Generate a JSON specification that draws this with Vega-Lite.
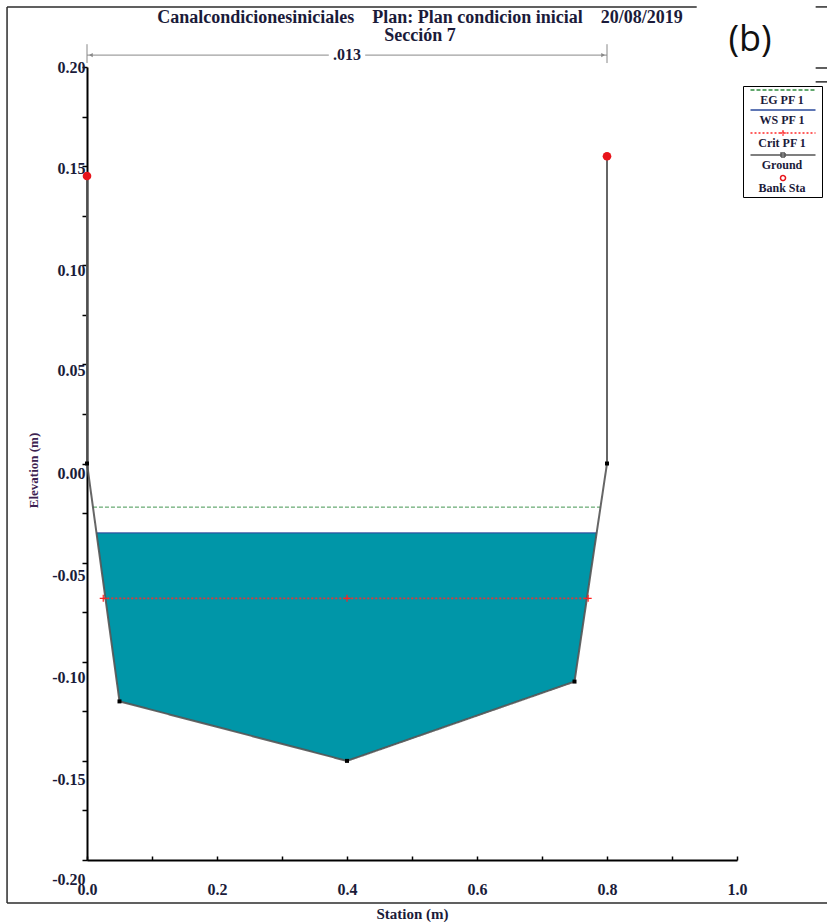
{
  "$schema": "https://vega.github.io/schema/vega-lite/v6.json",
  "width": 650,
  "height": 793,
  "autosize": {"type": "none"},
  "padding": {"left": 87, "top": 67, "right": 90, "bottom": 62},
  "background": "white",
  "config": {"view": {"stroke": null}, "font": "Liberation Serif"},
  "title": {
    "text": ["Canalcondicionesiniciales\u00a0\u00a0\u00a0\u00a0Plan: Plan condicion inicial\u00a0\u00a0\u00a0\u00a020/08/2019", "Sección 7"],
    "anchor": "middle",
    "frame": "group",
    "dx": 8,
    "offset": -39,
    "font": "Liberation Serif",
    "fontWeight": "bold",
    "fontSize": 18,
    "lineHeight": 18,
    "color": "#1b1b3a"
  },
  "datasets": {
    "water": [
      {"x": 0.0146, "ground": -0.035, "ws": -0.035},
      {"x": 0.05, "ground": -0.12, "ws": -0.035},
      {"x": 0.4, "ground": -0.15, "ws": -0.035},
      {"x": 0.75, "ground": -0.11, "ws": -0.035},
      {"x": 0.784, "ground": -0.035, "ws": -0.035}
    ],
    "lines": [
      {"series": "EG PF 1", "o": 1, "x": 0.0092, "y": -0.022},
      {"series": "EG PF 1", "o": 2, "x": 0.79, "y": -0.022},
      {"series": "WS PF 1", "o": 1, "x": 0.0146, "y": -0.035},
      {"series": "WS PF 1", "o": 2, "x": 0.784, "y": -0.035},
      {"series": "Crit PF 1", "o": 1, "x": 0.025, "y": -0.068},
      {"series": "Crit PF 1", "o": 2, "x": 0.771, "y": -0.068},
      {"series": "Ground", "o": 1, "x": 0.0, "y": 0.145},
      {"series": "Ground", "o": 2, "x": 0.0, "y": 0.0},
      {"series": "Ground", "o": 3, "x": 0.05, "y": -0.12},
      {"series": "Ground", "o": 4, "x": 0.4, "y": -0.15},
      {"series": "Ground", "o": 5, "x": 0.75, "y": -0.11},
      {"series": "Ground", "o": 6, "x": 0.8, "y": 0.0},
      {"series": "Ground", "o": 7, "x": 0.8, "y": 0.155}
    ],
    "crit": [
      {"x": 0.025, "y": -0.068},
      {"x": 0.4, "y": -0.068},
      {"x": 0.771, "y": -0.068}
    ],
    "vertices": [
      {"x": 0.0, "y": 0.0},
      {"x": 0.05, "y": -0.12},
      {"x": 0.4, "y": -0.15},
      {"x": 0.75, "y": -0.11},
      {"x": 0.8, "y": 0.0}
    ],
    "bank": [
      {"series": "Bank Sta", "x": 0.0, "y": 0.145},
      {"series": "Bank Sta", "x": 0.8, "y": 0.155}
    ],
    "dimline": [
      {"x": 0.0, "x2": 0.372, "y": 0.206},
      {"x": 0.428, "x2": 0.8, "y": 0.206}
    ],
    "dimticks": [
      {"x": 0.0, "y": 0.2115, "y2": 0.202},
      {"x": 0.8, "y": 0.2115, "y2": 0.202}
    ],
    "arrows": [
      {"x": 0.006, "y": 0.206, "dir": "left"},
      {"x": 0.794, "y": 0.206, "dir": "right"}
    ],
    "dimlabel": [{"x": 0.4, "y": 0.206, "label": ".013"}],
    "panel": [{"x": 1.02, "y": 0.2136, "label": "(b)"}],
    "frame": [
      {"x": -0.123, "x2": 0.938, "y": 0.2303, "y2": 0.2303},
      {"x": 1.121, "x2": 1.14, "y": 0.2303, "y2": 0.2303},
      {"x": 1.121, "x2": 1.14, "y": 0.1995, "y2": 0.1995},
      {"x": 1.121, "x2": 1.14, "y": 0.1925, "y2": 0.1925},
      {"x": -0.123, "x2": -0.123, "y": 0.2303, "y2": -0.2217},
      {"x": -0.123, "x2": 1.14, "y": -0.2217, "y2": -0.2217}
    ]
  },
  "layer": [
    {
      "data": {"name": "water"},
      "mark": {"type": "area", "fill": "#0096a8", "opacity": 1},
      "encoding": {
        "x": {
          "field": "x", "type": "quantitative",
          "scale": {"domain": [0, 1], "nice": false, "zero": false},
          "axis": {
            "title": "Station (m)",
            "values": [0, 0.05, 0.1, 0.15, 0.2, 0.25, 0.3, 0.35, 0.4, 0.45, 0.5, 0.55, 0.6, 0.65, 0.7, 0.75, 0.8, 0.85, 0.9, 0.95, 1],
            "labelExpr": "abs(datum.value*5 - round(datum.value*5)) < 0.000001 ? format(datum.value, '.1f') : ''",
            "labelFont": "Liberation Serif", "labelFontWeight": "bold", "labelFontSize": 16, "labelColor": "#1b1b3a",
            "labelBaseline": "middle", "labelPadding": 33, "labelOverlap": false, "labelFlush": false,
            "tickSize": -4, "tickColor": "#000000", "tickWidth": 1.5,
            "domainColor": "#000000", "domainWidth": 2, "grid": false,
            "titleFont": "Liberation Serif", "titleFontWeight": "bold", "titleFontSize": 15, "titleColor": "#1b1b3a",
            "titleY": 53, "titleBaseline": "middle"
          }
        },
        "y": {
          "field": "ground", "type": "quantitative",
          "scale": {"domain": [-0.2, 0.2], "nice": false, "zero": false},
          "axis": {
            "title": "Elevation (m)",
            "values": [0.2, 0.175, 0.15, 0.125, 0.1, 0.075, 0.05, 0.025, 0, -0.025, -0.05, -0.075, -0.1, -0.125, -0.15, -0.175, -0.2],
            "labelExpr": "abs(datum.value*20 - round(datum.value*20)) < 0.000001 ? replace(format(datum.value, '.2f'), '\u2212', '-') : ''",
            "labelFont": "Liberation Serif", "labelFontWeight": "bold", "labelFontSize": 16, "labelColor": "#1b1b3a",
            "labelBaseline": "middle", "labelPadding": -3, "labelOverlap": false, "labelFlush": false,
            "labelOffset": {
              "condition": [
                {"test": "datum.value < -0.14", "value": 19},
                {"test": "datum.value < -0.09", "value": 16},
                {"test": "datum.value < -0.04", "value": 13},
                {"test": "datum.value < 0.01", "value": 10},
                {"test": "datum.value < 0.06", "value": 6},
                {"test": "datum.value < 0.11", "value": 5},
                {"test": "datum.value < 0.16", "value": 2}
              ],
              "value": 0
            },
            "tickSize": 5, "tickColor": "#000000", "tickWidth": 1.5,
            "domainColor": "#000000", "domainWidth": 2, "grid": false,
            "titleFont": "Liberation Serif", "titleFontWeight": "bold", "titleFontSize": 13, "titleColor": "#3d2251",
            "titleAngle": -90, "titleX": -54, "titleY": 403, "titleAlign": "center", "titleBaseline": "middle"
          }
        },
        "y2": {"field": "ws"}
      }
    },
    {
      "data": {"name": "lines"},
      "mark": {"type": "line"},
      "encoding": {
        "x": {"field": "x", "type": "quantitative"},
        "y": {"field": "y", "type": "quantitative"},
        "order": {"field": "o", "type": "quantitative"},
        "color": {
          "field": "series", "type": "nominal",
          "scale": {"domain": ["EG PF 1", "WS PF 1", "Crit PF 1", "Ground", "Bank Sta"], "range": ["#2e8b3e", "#2a4a9c", "#ff2a2a", "#555555", "#e8141b"]},
          "legend": {
            "title": null, "orient": "none", "legendX": 656, "legendY": 19,
            "strokeColor": "#000000", "fillColor": "#ffffff", "padding": 3,
            "symbolSize": 100, "symbolStrokeWidth": 1.5, "symbolOpacity": 1, "symbolOffset": 31,
            "labelFont": "Liberation Serif", "labelFontWeight": "bold", "labelFontSize": 12, "labelColor": "#1b1b3a",
            "labelAlign": "center", "labelBaseline": "top", "labelOffset": -7, "rowPadding": 1
          }
        },
        "strokeDash": {
          "field": "series", "type": "nominal",
          "scale": {"domain": ["EG PF 1", "WS PF 1", "Crit PF 1", "Ground", "Bank Sta"], "range": [[4, 2], [1, 0], [2, 2], [1, 0], [1, 0]]},
          "legend": {
            "title": null, "orient": "none", "legendX": 656, "legendY": 19,
            "strokeColor": "#000000", "fillColor": "#ffffff", "padding": 3,
            "symbolSize": 100, "symbolStrokeWidth": 1.5, "symbolOpacity": 1, "symbolOffset": 31,
            "labelFont": "Liberation Serif", "labelFontWeight": "bold", "labelFontSize": 12, "labelColor": "#1b1b3a",
            "labelAlign": "center", "labelBaseline": "top", "labelOffset": -7, "rowPadding": 1
          }
        },
        "size": {
          "field": "series", "type": "nominal",
          "scale": {"domain": ["EG PF 1", "WS PF 1", "Crit PF 1", "Ground"], "range": [1, 2, 1, 1.5]},
          "legend": null
        },
        "opacity": {"value": 0.9}
      }
    },
    {
      "data": {"name": "lines"},
      "mark": {"type": "point", "filled": false, "opacity": 0},
      "encoding": {
        "x": {"field": "x", "type": "quantitative"},
        "y": {"field": "y", "type": "quantitative"},
        "shape": {
          "field": "series", "type": "nominal",
          "scale": {
            "domain": ["EG PF 1", "WS PF 1", "Crit PF 1", "Ground", "Bank Sta"],
            "range": [
              "M-6.5,-1H6.5",
              "M-6.5,-1H6.5",
              "M-6.5,-1H6.5M0,-1.55V-0.45M-0.55,-1H0.55",
              "M-6.5,-1H6.5M-0.4,-1.4H0.4V-0.6H-0.4Z",
              "M-0.5,-1A0.5,0.5,0,1,1,0.5,-1A0.5,0.5,0,1,1,-0.5,-1Z"
            ]
          },
          "legend": {
            "title": null, "orient": "none", "legendX": 656, "legendY": 19,
            "strokeColor": "#000000", "fillColor": "#ffffff", "padding": 3,
            "symbolSize": 100, "symbolStrokeWidth": 1.5, "symbolOpacity": 1, "symbolOffset": 31,
            "labelFont": "Liberation Serif", "labelFontWeight": "bold", "labelFontSize": 12, "labelColor": "#1b1b3a",
            "labelAlign": "center", "labelBaseline": "top", "labelOffset": -7, "rowPadding": 1
          }
        }
      }
    },
    {
      "data": {"name": "crit"},
      "mark": {"type": "point", "shape": "M-1,0H1M0,-1V1", "filled": false, "stroke": "#ff2020", "strokeWidth": 1.2, "size": 50, "opacity": 1},
      "encoding": {
        "x": {"field": "x", "type": "quantitative"},
        "y": {"field": "y", "type": "quantitative"}
      }
    },
    {
      "data": {"name": "vertices"},
      "mark": {"type": "point", "shape": "square", "filled": true, "color": "#000000", "size": 16, "opacity": 1},
      "encoding": {
        "x": {"field": "x", "type": "quantitative"},
        "y": {"field": "y", "type": "quantitative"}
      }
    },
    {
      "data": {"name": "bank"},
      "mark": {"type": "point", "shape": "circle", "filled": true, "color": "#e8141b", "size": 75, "opacity": 1},
      "encoding": {
        "x": {"field": "x", "type": "quantitative"},
        "y": {"field": "y", "type": "quantitative"}
      }
    },
    {
      "data": {"name": "dimline"},
      "mark": {"type": "rule", "color": "#888888", "strokeWidth": 1},
      "encoding": {
        "x": {"field": "x", "type": "quantitative"},
        "x2": {"field": "x2"},
        "y": {"field": "y", "type": "quantitative"}
      }
    },
    {
      "data": {"name": "dimticks"},
      "mark": {"type": "rule", "color": "#888888", "strokeWidth": 1},
      "encoding": {
        "x": {"field": "x", "type": "quantitative"},
        "y": {"field": "y", "type": "quantitative"},
        "y2": {"field": "y2"}
      }
    },
    {
      "data": {"name": "arrows"},
      "transform": [{"filter": "datum.dir === 'left'"}],
      "mark": {"type": "point", "shape": "triangle-left", "filled": true, "color": "#888888", "size": 18, "opacity": 1},
      "encoding": {
        "x": {"field": "x", "type": "quantitative"},
        "y": {"field": "y", "type": "quantitative"}
      }
    },
    {
      "data": {"name": "arrows"},
      "transform": [{"filter": "datum.dir === 'right'"}],
      "mark": {"type": "point", "shape": "triangle-right", "filled": true, "color": "#888888", "size": 18, "opacity": 1},
      "encoding": {
        "x": {"field": "x", "type": "quantitative"},
        "y": {"field": "y", "type": "quantitative"}
      }
    },
    {
      "data": {"name": "dimlabel"},
      "mark": {"type": "text", "font": "Liberation Serif", "fontWeight": "bold", "fontSize": 16, "color": "#1b1b3a", "align": "center", "baseline": "middle"},
      "encoding": {
        "x": {"field": "x", "type": "quantitative"},
        "y": {"field": "y", "type": "quantitative"},
        "text": {"field": "label"}
      }
    },
    {
      "data": {"name": "panel"},
      "mark": {"type": "text", "font": "Open Sans", "fontSize": 36, "color": "#111111", "align": "center", "baseline": "middle"},
      "encoding": {
        "x": {"field": "x", "type": "quantitative"},
        "y": {"field": "y", "type": "quantitative"},
        "text": {"field": "label"}
      }
    },
    {
      "data": {"name": "frame"},
      "mark": {"type": "rule", "color": "#2b2b2b", "strokeWidth": 1.5},
      "encoding": {
        "x": {"field": "x", "type": "quantitative"},
        "x2": {"field": "x2"},
        "y": {"field": "y", "type": "quantitative"},
        "y2": {"field": "y2"}
      }
    }
  ]
}
